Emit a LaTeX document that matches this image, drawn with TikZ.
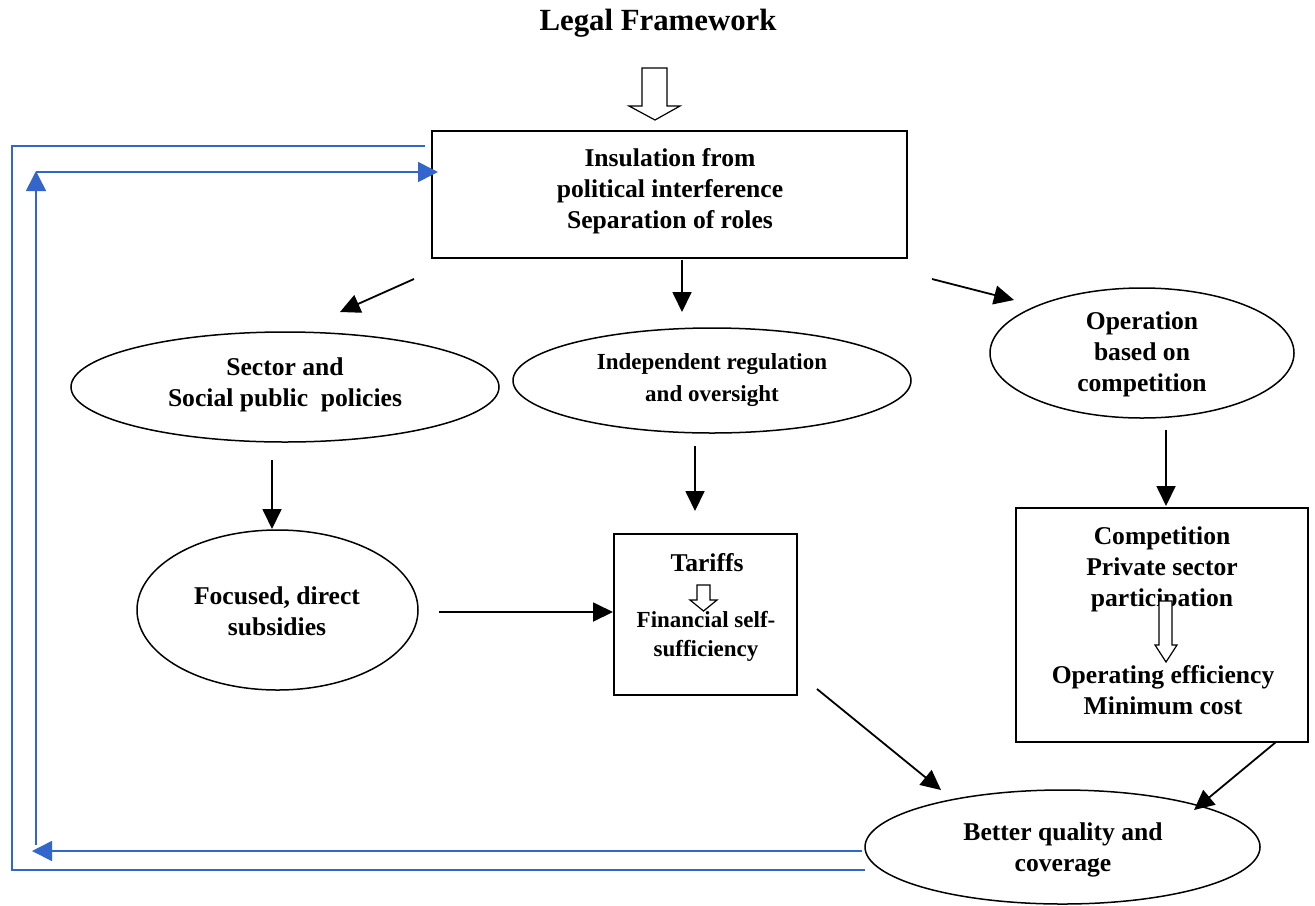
\documentclass[tikz,border=0pt]{standalone}
\usepackage{fontspec}
\setmainfont{Liberation Serif}
\usetikzlibrary{shapes.geometric,arrows.meta}
\definecolor{fbblue}{RGB}{51,102,204}
\begin{document}
\begin{tikzpicture}[x=0.5pt,y=-0.5pt,
  txt/.style={font=\fontsize{12.8}{15.5}\selectfont\bfseries, align=center, inner sep=0pt},
  smalltxt/.style={font=\fontsize{11.5}{16}\selectfont\bfseries, align=center, inner sep=0pt},
  titletxt/.style={font=\fontsize{15.4}{18}\selectfont\bfseries, inner sep=0pt},
  boxnode/.style={draw, line width=0.9pt, inner sep=0pt},
  ellnode/.style={draw, ellipse, line width=0.75pt, inner sep=0pt},
  arr/.style={-{Triangle[length=10pt,width=9.5pt]}, line width=0.9pt},
  barr/.style={draw=fbblue, fill=fbblue, -{Triangle[length=10pt,width=10pt]}, line width=0.8pt},
  bline/.style={draw=fbblue, line width=0.8pt},
  hollow/.style={draw, line width=0.6pt, fill=white}
]
\useasboundingbox (0,0) rectangle (1315,905);

% title
\node[titletxt] (title) at (658,23) {Legal Framework};
\draw[hollow] (642,68) -- (667,68) -- (667,106) -- (680,106) -- (655,120) -- (629,106) -- (642,106) -- cycle;

% top box
\node[boxnode, minimum width=237.5pt, minimum height=63.5pt] (top) at (669.5,194.5) {};
\node[txt] (toptext) at (670,191) {Insulation from\\political interference\\Separation of roles};

% ellipses row
\node[ellnode, minimum width=214pt, minimum height=55pt] (sector) at (285,387) {};
\node[txt] (sectortext) at (285,385) {Sector and\\Social public\ \ policies};
\node[ellnode, minimum width=199pt, minimum height=52.5pt] (indep) at (712,380.5) {};
\node[smalltxt] (indeptext) at (712,380) {Independent regulation\\and oversight};
\node[ellnode, minimum width=152pt, minimum height=65pt] (oper) at (1142,353) {};
\node[txt] (opertext) at (1142,354) {Operation\\based on\\competition};

% second row
\node[ellnode, minimum width=140.5pt, minimum height=80pt] (subs) at (277.5,610) {};
\node[txt] (substext) at (277,611) {Focused, direct\\subsidies};
\node[boxnode, minimum width=91.5pt, minimum height=80.5pt] (tariff) at (705.5,614.5) {};
\node[txt] (tarifftext) at (707,563) {Tariffs};
\node[smalltxt, font=\fontsize{11.5}{14.5}\selectfont\bfseries] (fintext) at (706,636.5) {Financial self-\\sufficiency};
\draw[hollow] (697,585) -- (710,585) -- (710,600) -- (717,600) -- (703.5,611) -- (690,600) -- (697,600) -- cycle;

\node[boxnode, minimum width=146pt, minimum height=117pt] (comp) at (1162,625) {};
\node[txt] (comptext) at (1162,569) {Competition\\Private sector\\participation};
\draw[hollow] (1159,601) -- (1172,601) -- (1172,645) -- (1177,645) -- (1166,662) -- (1155,645) -- (1159,645) -- cycle;
\node[txt] (efftext) at (1163,690.5) {Operating efficiency\\Minimum cost};

% bottom ellipse
\node[ellnode, minimum width=197.5pt, minimum height=57pt] (better) at (1062.5,847) {};
\node[txt] (bettertext) at (1063,849.5) {Better quality and\\coverage};

% arrow coordinates
\coordinate (a1s) at (414,279); \coordinate (a1e) at (340,312);
\coordinate (a2s) at (682,260); \coordinate (a2e) at (682,312);
\coordinate (a3s) at (932,279); \coordinate (a3e) at (1014,300);
\coordinate (a4s) at (272,460); \coordinate (a4e) at (272,529);
\coordinate (a5s) at (695,446); \coordinate (a5e) at (695,511);
\coordinate (a6s) at (1166,430); \coordinate (a6e) at (1166,506);
\coordinate (a7s) at (439,612); \coordinate (a7e) at (613,612);
\coordinate (a8s) at (817,689); \coordinate (a8e) at (941,790);
\coordinate (a9s) at (1276,742); \coordinate (a9e) at (1194,810);

\draw[arr] (a1s) -- (a1e);
\draw[arr] (a2s) -- (a2e);
\draw[arr] (a3s) -- (a3e);
\draw[arr] (a4s) -- (a4e);
\draw[arr] (a5s) -- (a5e);
\draw[arr] (a6s) -- (a6e);
\draw[arr] (a7s) -- (a7e);
\draw[arr] (a8s) -- (a8e);
\draw[arr] (a9s) -- (a9e);

% blue feedback lines
\coordinate (b1) at (425,146); \coordinate (b2) at (12,146);
\coordinate (b3) at (12,870); \coordinate (b4) at (865,870);
\draw[bline] (b1) -- (b2) -- (b3) -- (b4);
\coordinate (c1) at (862,851); \coordinate (c2) at (32,851);
\draw[barr] (c1) -- (c2);
\coordinate (d1) at (36,845); \coordinate (d2) at (36,171);
\draw[barr] (d1) -- (d2);
\coordinate (e1) at (36,172); \coordinate (e2) at (438,172);
\draw[barr] (e1) -- (e2);
\end{tikzpicture}
\end{document}
